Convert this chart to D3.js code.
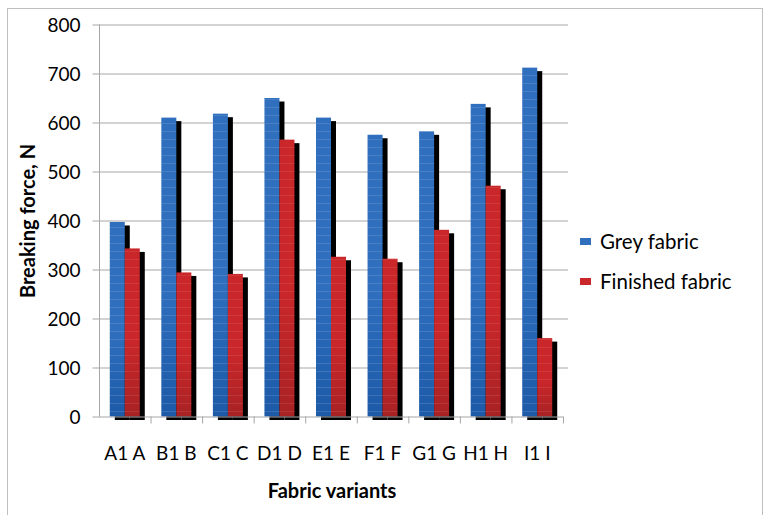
<!DOCTYPE html>
<html><head><meta charset="utf-8">
<script src="https://cdn.jsdelivr.net/npm/d3@7"></script>
<style>body{margin:0;background:#fff}svg{display:block}text{font-family:Lato,"Open Sans",sans-serif;fill:#000}</style>
</head><body>
<svg id="c" width="764" height="515"></svg>
<script>
const categories = ["A1 A","B1 B","C1 C","D1 D","E1 E","F1 F","G1 G","H1 H","I1 I"];
const greyFabric = [397,610,618,650,610,575,582,638,712];
const finishedFabric = [343,294,291,565,326,322,381,471,160];
const yTicks = [0,100,200,300,400,500,600,700,800];
const seriesNames = ["Grey fabric","Finished fabric"];

const svg = d3.select("#c");
const defs = svg.append("defs");
function stripe(id, base, dark, line){
  const g = defs.append("linearGradient").attr("id", id+"g").attr("x1",0).attr("y1",0).attr("x2",0).attr("y2",1);
  g.append("stop").attr("offset","0").attr("stop-color",base);
  g.append("stop").attr("offset","0.55").attr("stop-color",base);
  g.append("stop").attr("offset","1").attr("stop-color",dark);
  const p = defs.append("pattern").attr("id",id).attr("patternUnits","userSpaceOnUse").attr("width",20).attr("height",8);
  p.append("rect").attr("y",3).attr("width",20).attr("height",1).attr("fill",line).attr("opacity",0.2);
}
stripe("bs","#2f6fbd","#1c5aa8","#a8c4ea");
stripe("rs","#c9272a","#a82224","#e88080");

svg.append("rect").attr("x",7.5).attr("y",8.5).attr("width",755).attr("height",520)
  .attr("fill","none").attr("stroke","#bfbfbf").attr("stroke-width",1);

const pLeft = 99, pRight = 563, pTop = 24.5, pBottom = 416.5;
const x = d3.scaleBand().domain(categories).range([pLeft,pRight]).paddingInner(0).paddingOuter(0);
const y = d3.scaleLinear().domain([0,800]).range([pBottom, pTop]);
const bw = 15, off = 5, dy = 3.5;
const groupStart = c => x(c) + (x.bandwidth() - 2*bw)/2;

// gridlines
svg.append("g").selectAll("line").data(yTicks.filter(t=>t>0)).join("line")
  .attr("x1",pLeft).attr("x2",568).attr("y1",d=>y(d)+0.5).attr("y2",d=>y(d)+0.5)
  .attr("stroke","#a6a6a6").attr("stroke-width",1);

const series = [greyFabric, finishedFabric];
const fills = ["#2f6fbd","#c9272a"];
const grads = ["bsg","rsg"];
const pats = ["bs","rs"];
series.forEach((vals, si) => {
  const gg = svg.append("g");
  const data = categories.map((c,i)=>({c, v: vals[i]}));
  gg.selectAll("rect.sh").data(data).join("rect").attr("class","sh")
    .attr("x", d=>groupStart(d.c)+si*bw+off).attr("y", d=>y(d.v)+dy)
    .attr("width", bw).attr("height", d=>pBottom - y(d.v)).attr("fill","#000");
  gg.selectAll("rect.b").data(data).join("rect").attr("class","b")
    .attr("x", d=>groupStart(d.c)+si*bw).attr("y", d=>y(d.v))
    .attr("width", bw).attr("height", d=>pBottom - y(d.v)).attr("fill","url(#"+grads[si]+")");
  gg.selectAll("rect.p").data(data).join("rect").attr("class","p")
    .attr("x", d=>groupStart(d.c)+si*bw).attr("y", d=>y(d.v))
    .attr("width", bw).attr("height", d=>pBottom - y(d.v)).attr("fill","url(#"+pats[si]+")");
});

// y axis
const ya = svg.append("g").attr("transform",`translate(${pLeft+0.5},0)`)
  .call(d3.axisLeft(y).tickValues(yTicks).tickSize(7).tickPadding(12));
ya.select(".domain").attr("stroke","#a6a6a6").attr("d",`M0,${pTop}V${pBottom}`);
ya.selectAll(".tick line").attr("stroke","#a6a6a6");
ya.selectAll(".tick text").attr("font-size",19).attr("font-family","Lato,sans-serif").attr("fill","#000").attr("dy","0.35em");

// x axis
const xa = svg.append("g").attr("transform",`translate(0,${pBottom+0.5})`)
  .call(d3.axisBottom(x).tickSize(0).tickPadding(30));
xa.select(".domain").attr("stroke","#a6a6a6").attr("d",`M${pLeft},0H${pRight}`);
xa.selectAll(".tick text").attr("font-size",19).attr("font-family","Lato,sans-serif").attr("fill","#000");
svg.append("g").selectAll("line").data(categories).join("line")
  .attr("x1",d=>x(d)+x.bandwidth()+0.5).attr("x2",d=>x(d)+x.bandwidth()+0.5)
  .attr("y1",pBottom).attr("y2",pBottom+7).attr("stroke","#a6a6a6");

// titles
svg.append("text").attr("x",332).attr("y",498).attr("text-anchor","middle")
  .attr("font-size",20).attr("font-weight","bold").text("Fabric variants");
svg.append("text").attr("transform","translate(35,221) rotate(-90)").attr("text-anchor","middle")
  .attr("font-size",20).attr("font-weight","bold").text("Breaking force, N");

// legend
const lg = svg.append("g");
seriesNames.forEach((n,i)=>{
  const yy = 238 + i*40;
  lg.append("rect").attr("x",580).attr("y",yy).attr("width",11).attr("height",7).attr("fill",fills[i]);
  lg.append("text").attr("x",600).attr("y",yy+11).attr("font-size",20.5).text(n);
});
</script>
</body></html>
